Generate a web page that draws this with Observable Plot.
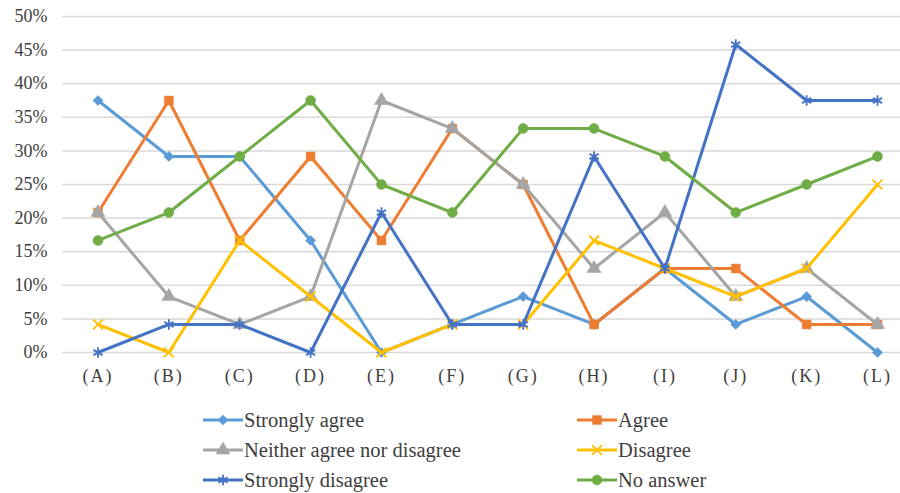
<!DOCTYPE html>
<html><head><meta charset="utf-8">
<script src="https://cdn.jsdelivr.net/npm/d3@7"></script>
<script src="https://cdn.jsdelivr.net/npm/@observablehq/plot@0.6"></script>
<style>
body{margin:0;background:#fff;overflow:hidden;font-family:"Liberation Serif","DejaVu Serif",serif}
#chart{position:absolute;left:0;top:0}
#legend{position:absolute;left:0;top:0;width:900px;height:493px;pointer-events:none}
.item{position:absolute;display:flex;align-items:center;font-size:20.5px;color:#404040;height:26px;font-family:"Liberation Serif","DejaVu Serif",serif;white-space:nowrap}
.item svg{margin-right:1px}
.xax text{letter-spacing:2px}
</style></head>
<body><div id="chart"></div><div id="legend"></div>
<script>
const categories = ["(A)","(B)","(C)","(D)","(E)","(F)","(G)","(H)","(I)","(J)","(K)","(L)"];
const seriesNames = ["Strongly agree","Agree","Neither agree nor disagree","Disagree","Strongly disagree","No answer"];
const stronglyAgree    = [37.5, 29.17, 29.17, 16.67, 0, 4.17, 8.33, 4.17, 12.5, 4.17, 8.33, 0];
const agree            = [20.83, 37.5, 16.67, 29.17, 16.67, 33.33, 25, 4.17, 12.5, 12.5, 4.17, 4.17];
const neither          = [20.83, 8.33, 4.17, 8.33, 37.5, 33.33, 25, 12.5, 20.83, 8.33, 12.5, 4.17];
const disagree         = [4.17, 0, 16.67, 8.33, 0, 4.17, 4.17, 16.67, 12.5, 8.33, 12.5, 25];
const stronglyDisagree = [0, 4.17, 4.17, 0, 20.83, 4.17, 4.17, 29.17, 12.5, 45.83, 37.5, 37.5];
const noAnswer         = [16.67, 20.83, 29.17, 37.5, 25, 20.83, 33.33, 33.33, 29.17, 20.83, 25, 29.17];
const yTicks = [0, 5, 10, 15, 20, 25, 30, 35, 40, 45, 50];

const seriesValues = [stronglyAgree, agree, neither, disagree, stronglyDisagree, noAnswer];
const colors = ["#5B9BD5","#ED7D31","#A5A5A5","#FFC000","#4472C4","#70AD47"];
const symbols = ["diamond2","square","triangle","times","asterisk","circle"];
const filled = [true,true,true,false,false,true];
const radii = [4.6,5,5.2,4.6,5,5];
const serif = '"Liberation Serif","DejaVu Serif",serif';

const W = 900, H = 393;
const marks = [
  Plot.ruleY(yTicks, {y: d => d/100, stroke: "#d9d9d9", strokeWidth: 1.5})
];
seriesNames.forEach((name, i) => {
  const data = categories.map((c, j) => ({cat: c, v: seriesValues[i][j]/100}));
  marks.push(Plot.line(data, {x: "cat", y: "v", stroke: colors[i], strokeWidth: 3}));
  marks.push(Plot.dot(data, {x: "cat", y: "v", symbol: () => symbols[i], r: radii[i],
    fill: filled[i] ? colors[i] : "none", stroke: colors[i], strokeWidth: filled[i] ? 0.5 : 1.8}));
});
marks.push(Plot.axisY(yTicks.map(d => d/100), {tickSize: 0, tickPadding: 15, tickFormat: d3.format(".0%"), fontSize: 18, fill: "#404040", fontFamily: serif}));
marks.push(Plot.axisX({tickSize: 0, tickPadding: 17, fontSize: 18, fill: "#404040", fontFamily: serif, className: "xax"}));

const chart = Plot.plot({
  width: W, height: H,
  marginLeft: 62, marginRight: 0, marginTop: 16, marginBottom: 41,
  style: {fontFamily: serif, background: "#fff"},
  x: {type: "point", domain: categories, range: [97.5, 877], padding: 0, round: false, label: null},
  y: {domain: [0, 0.5], label: null},
  marks
});
document.getElementById("chart").appendChild(chart);

// legend
const legend = d3.select("#legend");
const cols = [203, 577];
const rows = [420, 450, 480];
const symMap = {diamond2: d3.symbolDiamond2, square: d3.symbolSquare, triangle: d3.symbolTriangle,
  times: d3.symbolTimes, asterisk: d3.symbolAsterisk, circle: d3.symbolCircle};
seriesNames.forEach((name, i) => {
  const item = legend.append("div").attr("class", "item")
    .style("left", cols[i % 2] + "px").style("top", (rows[Math.floor(i/2)] - 13) + "px");
  const s = item.append("svg").attr("width", 40).attr("height", 26);
  s.append("line").attr("x1", 0).attr("x2", 40).attr("y1", 13).attr("y2", 13)
    .attr("stroke", colors[i]).attr("stroke-width", 3);
  s.append("path").attr("transform", "translate(20,13)")
    .attr("d", d3.symbol(symMap[symbols[i]], Math.PI * radii[i] * radii[i])())
    .attr("fill", filled[i] ? colors[i] : "none").attr("stroke", colors[i])
    .attr("stroke-width", filled[i] ? 0.5 : 1.8);
  item.append("span").text(name);
});
</script>
</body></html>
